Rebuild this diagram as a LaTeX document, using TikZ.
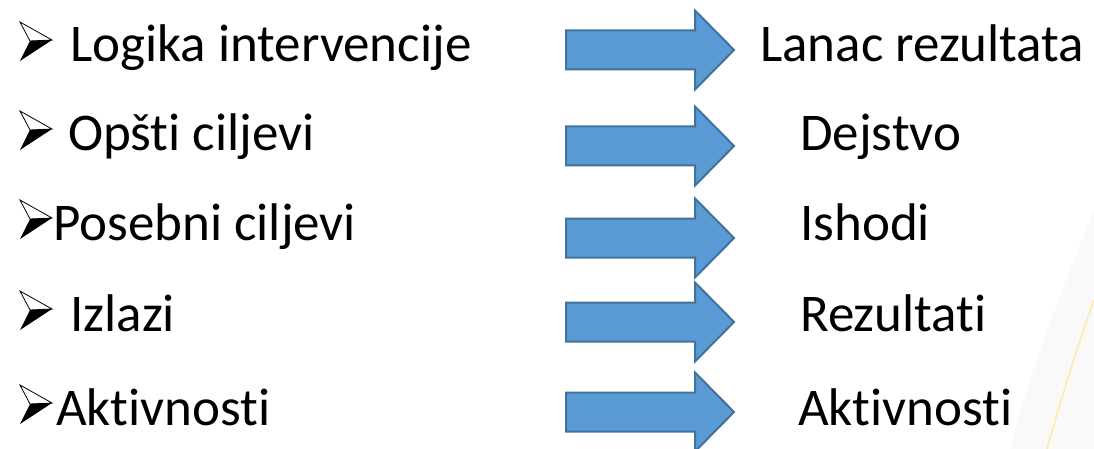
\documentclass[tikz,border=0pt]{standalone}
\usepackage{fontspec}
\setmainfont{Carlito}[Ligatures={NoCommon}]
\begin{document}
\begin{tikzpicture}[x=1pt,y=-1pt,
  txt/.style={anchor=base west,inner sep=0pt,font=\fontsize{53}{60}\selectfont},
  blk/.style={fill=arrowfill,draw=arrowedge,line width=2pt,line join=miter},
  bul/.pic={
    \draw[fill=white,line width=0.8pt,line join=miter] (0,-40) -- (32,-22) -- (10,-21) -- cycle;
    \fill[black] (10,-21) -- (32,-22) -- (0,-1) -- cycle;
  }]
\definecolor{arrowfill}{HTML}{5B9BD5}
\definecolor{arrowedge}{HTML}{41719C}
\useasboundingbox (0,0) rectangle (1094,449);
% faint background swoosh
\fill[black!2.5] (1094,210) .. controls (1060,295) and (1030,370) .. (1010,449) -- (1094,449) -- cycle;
\draw[yellow!70!orange!45,line width=1.1pt] (1047,449) .. controls (1062,395) and (1078,345) .. (1094,300);
% bullets
\foreach \b in {62,151,240,331,425} { \pic at (20,\b) {bul}; }
% left texts
\node[txt] (l1) at (70,62) {Logika intervencije};
\node[txt] (l2) at (68,151) {Opšti ciljevi};
\node[txt] (l3) at (53,240) {Posebni ciljevi};
\node[txt] (l4) at (70,331) {Izlazi};
\node[txt] (l5) at (56,425) {Aktivnosti};
% right texts
\node[txt] (r1) at (760,62) {Lanac rezultata};
\node[txt] (r2) at (800,151) {Dejstvo};
\node[txt] (r3) at (800,240) {Ishodi};
\node[txt] (r4) at (800,331) {Rezultati};
\node[txt] (r5) at (798,425) {Aktivnosti};
% block arrows
\foreach \c in {50,146,238,322,412} {
  \draw[blk] (566,\c-19.5) -- (695,\c-19.5) -- (695,\c-39.5) -- (734,\c) -- (695,\c+39.5) -- (695,\c+19.5) -- (566,\c+19.5) -- cycle;
}
\end{tikzpicture}
\end{document}
